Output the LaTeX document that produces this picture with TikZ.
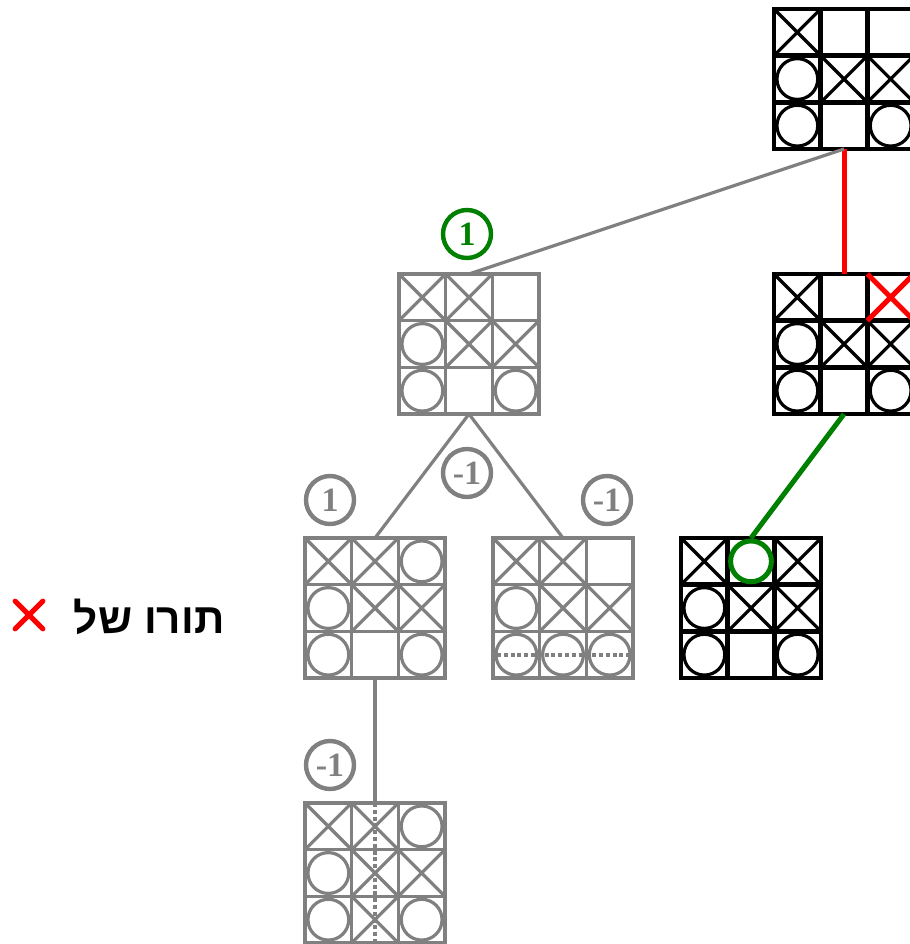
\documentclass[tikz,border=0pt]{standalone}
\usepackage{fontspec}
\usetikzlibrary{calc}
\newfontfamily\hebfont[Script=Hebrew]{Liberation Sans}
\newfontfamily\numfont{Liberation Serif}
\TeXXeTstate=1
\definecolor{movegreen}{RGB}{0,128,0}

\newcommand{\boardgrid}[1]{%
  \foreach \k in {1,2} {
    \draw ($(#1.north west)+(\k*46.67,0)$) -- ($(#1.south west)+(\k*46.67,0)$);
    \draw ($(#1.north west)+(0,\k*46.67)$) -- ($(#1.north east)+(0,\k*46.67)$);
  }}
\newcommand{\crosses}[3][]{%
  \foreach \c/\r in {#3} {
    \draw[markline,#1] ($(#2.north west)+(\c*46.67-46.67,\r*46.67-46.67)$) -- ++(46.67,46.67)
      ++(-46.67,0) -- ++(46.67,-46.67);
  }}
\newcommand{\noughts}[3][]{%
  \foreach \c/\r in {#3} {
    \draw[markline,#1] ($(#2.north west)+(\c*46.67-23.33,\r*46.67-23.33)$) circle[radius=10.2pt];
  }}

\begin{document}
\begin{tikzpicture}[
    x=0.5pt, y=-0.5pt,
    board/.style={draw, fill=white, minimum size=70pt, inner sep=0pt, outer sep=0pt},
    markline/.style={line width=1.6pt},
    live/.style={black, line width=2.2pt},
    dead/.style={gray, line width=1.8pt},
    score/.style={circle, draw=#1, text=#1, fill=white, line width=2.2pt, minimum size=24pt,
                  inner sep=0pt, font=\numfont\bfseries\fontsize{17}{17}\selectfont},
    link/.style={gray, line width=1.6pt},
    winline/.style={gray, line width=1.6pt, dash pattern=on 2pt off 1.4pt}
  ]
  \useasboundingbox (0,0) rectangle (910,944);

  \begin{scope}[live]
    \node[board] (A) at (844,79) {};
    \node[board] (B) at (844,344) {};
    \node[board] (C) at (751,608) {};
    \boardgrid{A} \boardgrid{B} \boardgrid{C}
    \crosses{A}{1/1,2/2,3/2}
    \noughts{A}{1/2,1/3,3/3}
    \crosses{B}{1/1,2/2,3/2}
    \crosses[red, line width=2.5pt]{B}{3/1}
    \noughts{B}{1/2,1/3,3/3}
    \crosses{C}{1/1,3/1,2/2,3/2}
    \noughts{C}{1/2,1/3,3/3}
  \end{scope}

  \begin{scope}[dead]
    \node[board] (D) at (469,344) {};
    \node[board] (E) at (375,608) {};
    \node[board] (F) at (563,608) {};
    \node[board] (G) at (375,873) {};
    \boardgrid{D} \boardgrid{E} \boardgrid{F} \boardgrid{G}
    \crosses{D}{1/1,2/1,2/2,3/2}
    \noughts{D}{1/2,1/3,3/3}
    \crosses{E}{1/1,2/1,2/2,3/2}
    \noughts{E}{3/1,1/2,1/3,3/3}
    \crosses{F}{1/1,2/1,2/2,3/2}
    \noughts{F}{1/2,1/3,2/3,3/3}
    \crosses{G}{1/1,2/1,2/2,3/2,2/3}
    \noughts{G}{3/1,1/2,1/3,3/3}
  \end{scope}

  \draw[red, line width=2.5pt] (A.south) -- (B.north);
  \draw[link] (A.south) -- (D.north);
  \draw[movegreen, line width=2.5pt] (B.south) -- (C.north);
  \noughts[movegreen, line width=2.5pt]{C}{2/1}
  \draw[link] (D.south) -- (E.north);
  \draw[link] (D.south) -- (F.north);
  \draw[link] (E.south) -- (G.north);

  \draw[winline] ($(F.west)+(4,47)$) -- ($(F.east)+(-4,47)$);
  \draw[winline] (G.north) -- (G.south);

  \node[score=movegreen] (vD) at (467,234) {1};
  \node[score=gray] (vE) at (330,500) {1};
  \node[score=gray] (vmid) at (467,473) {-1};
  \node[score=gray] (vF) at (607,500) {-1};
  \node[score=gray] (vG) at (330,765) {-1};

  \node[font=\hebfont\bfseries\fontsize{21.2}{25}\selectfont, anchor=east, inner sep=0pt] (turn)
    at (225,617) {\beginR תורו של\endR};
  \node[minimum size=13.5pt, inner sep=0pt] (turnx) at (29,615) {};
  \draw[red, line width=2.5pt, line cap=round] (turnx.north west) -- (turnx.south east)
    (turnx.north east) -- (turnx.south west);
\end{tikzpicture}
\end{document}
